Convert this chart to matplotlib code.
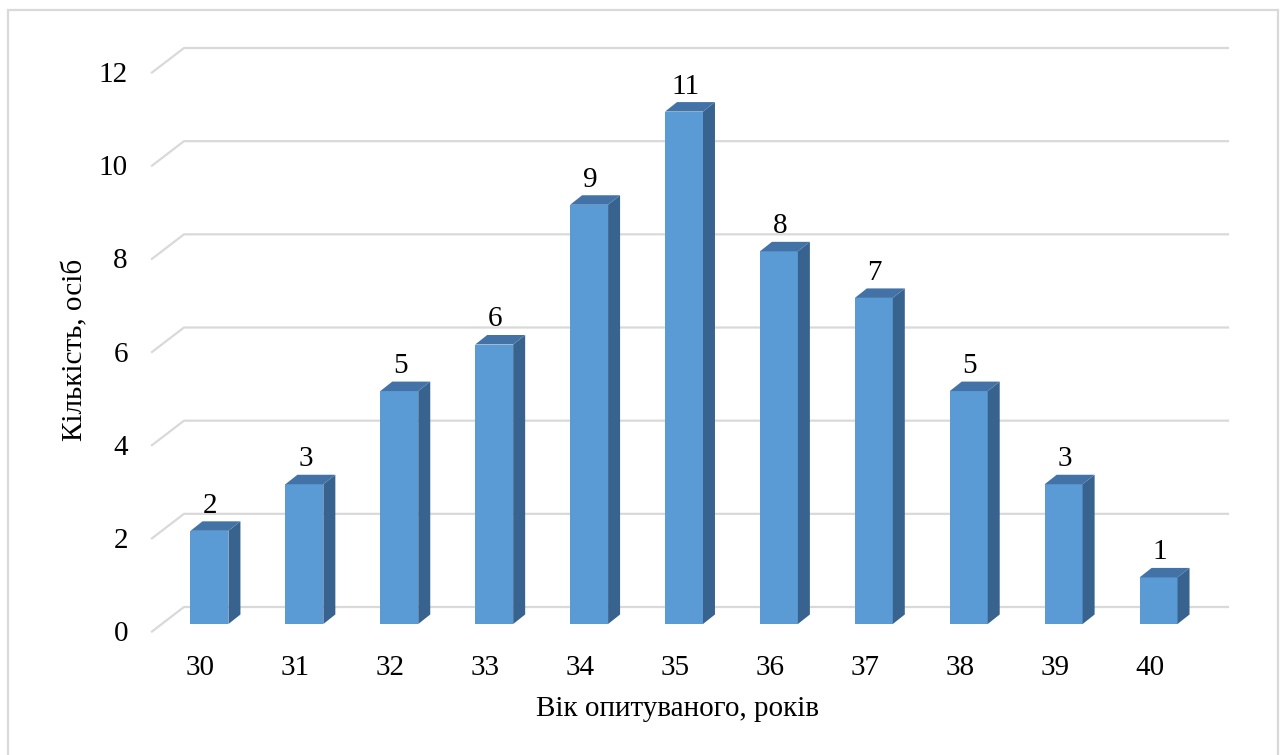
import matplotlib.pyplot as plt
from matplotlib.patches import Polygon, Rectangle
from matplotlib.transforms import ScaledTranslation

# respondents by age
ages = ['30', '31', '32', '33', '34', '35', '36', '37', '38', '39', '40']
counts = [2, 3, 5, 6, 9, 11, 8, 7, 5, 3, 1]
y_ticks = [0, 2, 4, 6, 8, 10, 12]

plt.rcParams['font.family'] = ['Liberation Serif', 'DejaVu Serif']
FS = 21

front_col = '#5B9BD5'
top_col = '#4373A6'
side_col = '#38638E'
grid_col = '#D9D9D9'

W, H = 1283, 755
fig = plt.figure(figsize=(W / 100, H / 100), dpi=100)
ax = fig.add_axes([162 / W, 131 / H, 1044 / W, 559 / H])
ax.set_xlim(-0.5, len(ages) - 0.5)
ax.set_ylim(0, 12)
ax.axis('off')


def px(dx, dy):
    # pixel offset -> data offset
    x0, y0 = ax.transData.transform((0, 0))
    x1, y1 = ax.transData.inverted().transform((x0 + dx, y0 + dy))
    return x1, y1


def shift(dx, dy):
    return ax.transData + ScaledTranslation(dx / 100, dy / 100, fig.dpi_scale_trans)


xmin, xmax = ax.get_xlim()
wx, wy = px(22, 17)      # back wall
fx, fy = px(-10, -7.5)   # front floor edge
bx, by = px(12, 9.5)     # bar depth

# gridlines on back wall + side wall
for v in y_ticks:
    ax.plot([xmin + fx, xmin + wx, xmax + wx], [v + fy, v + wy, v + wy],
            color=grid_col, lw=1.6, clip_on=False, zorder=1)
    ax.text(xmin, v, str(v), ha='right', va='baseline', fontsize=FS,
            transform=shift(-34, -17))

# 3d columns
w = 0.40
xs = list(range(len(ages)))
ax.bar(xs, counts, width=w, color=front_col, zorder=3)
for x, c in zip(xs, counts):
    r, l = x + w / 2, x - w / 2
    ax.add_patch(Polygon([(r, 0), (r + bx, by), (r + bx, c + by), (r, c)],
                         closed=True, facecolor=side_col, edgecolor='none', zorder=3))
    ax.add_patch(Polygon([(l, c), (r, c), (r + bx, c + by), (l + bx, c + by)],
                         closed=True, facecolor=top_col, edgecolor='none', zorder=3))
    ax.text(x, c, str(c), ha='center', va='baseline', fontsize=FS,
            transform=shift(1, 18), zorder=4)
    ax.text(x, 0, ages[x], ha='center', va='baseline', fontsize=FS,
            transform=shift(-9, -51))

fig.text(677 / W, 39 / H, 'Вік опитуваного, років', ha='center', va='baseline', fontsize=FS)
fig.text(75 / W, (H - 350) / H, 'Кількість, осіб', ha='center', va='center',
         rotation=90, fontsize=FS)

fig.patches.append(Rectangle((8 / W, -0.02), 1270 / W, (H - 10) / H + 0.02,
                             transform=fig.transFigure, fill=False,
                             edgecolor=grid_col, lw=1.6))

fig.savefig('out.png', dpi=100)
